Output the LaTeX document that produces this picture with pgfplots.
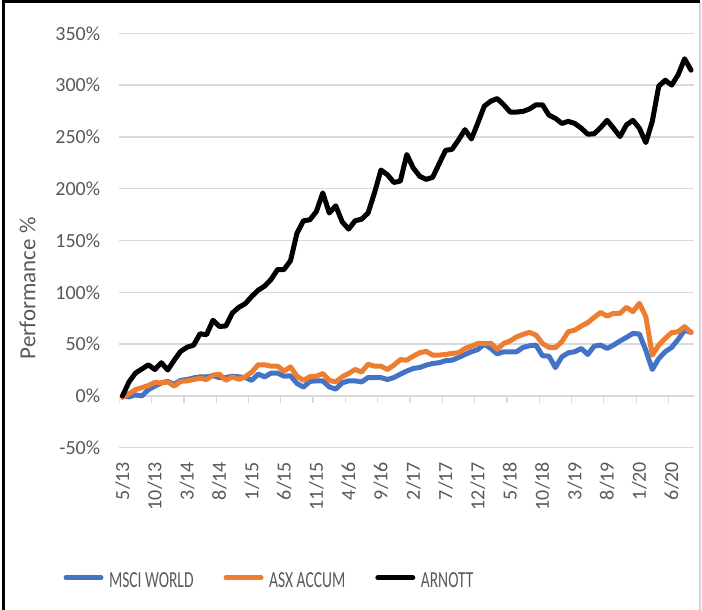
\documentclass[border=0pt]{standalone}
\usepackage{pgfplots}
\pgfplotsset{compat=1.18}
\usepackage{pgfplotstable}
\usepackage{fontspec}
\setmainfont{Carlito}
\newfontfamily\legfont[FakeStretch=0.675]{Carlito}
\definecolor{msciblue}{HTML}{4472C4}
\definecolor{asxorange}{HTML}{ED7D31}
\definecolor{gridgray}{HTML}{D9D9D9}
\definecolor{textgray}{HTML}{595959}

\pgfplotstableread{
i msci asx arnott
0 0 -1.5 0
1 -1 2 13.5
2 1 6 22
3 0 8 26
4 6 10 30
5 9.4 13 25.5
6 12.5 12.5 32
7 14 13.5 25
8 11.3 9.4 34.5
9 15 14 43
10 15.8 14.5 47
11 17.4 15.8 49
12 18.4 17 60
13 18.4 15.8 59
14 19.4 20 73
15 17.7 21 67
16 17.7 15 67.5
17 19 18.4 80
18 18.4 16 85.5
19 17.7 18.4 89
20 15 23 96
21 21 30 102
22 18.4 30 106
23 22 28.7 112.5
24 22 28.7 122
25 19 24 122
26 19.4 28 130.5
27 12 19 157
28 8.5 15 169
29 14 18.5 170
30 14.5 19 178
31 14.5 21.6 196
32 8.7 15 176.5
33 6.5 13.5 183.5
34 12.6 18.4 168
35 14.5 21.6 161
36 14.5 25.5 169
37 13.5 23 170.6
38 17.7 30.6 176.5
39 17.7 28.7 196
40 17.7 28.7 218
41 15.8 25.5 213.5
42 17.7 29.7 206
43 21 35 207.4
44 24 34.5 233
45 26.5 38.4 220
46 27.4 41.6 212
47 29.7 43 209
48 31.3 39.4 211
49 32 39.4 224
50 34 40 237
51 34.5 41 238
52 37 41.6 247
53 40 45.8 257
54 42.6 48 248
55 44.8 50.6 263.5
56 50 50.6 279.7
57 45.8 50.8 284.5
58 40.5 45 287
59 42.6 50.6 281
60 42.6 53 274
61 42.6 57 274
62 46.8 59.4 274.6
63 48.4 61.3 277
64 49 58.7 281
65 38.7 50.6 281
66 38.4 46.8 271
67 27.4 46.5 268
68 37.7 52.3 263
69 41.6 62 265
70 42.6 63.5 263
71 45.8 67.4 258.4
72 40 70.6 252.6
73 48 75.8 253
74 49 80.6 259
75 45.8 77 266
76 49 79.7 258.4
77 53 79.7 250.3
78 56.5 85.5 261.6
79 60.3 81.3 266
80 59.7 89.4 258.4
81 44 76.5 244.5
82 25.5 39.4 265
83 36 49 299
84 42.6 55.5 304.7
85 46.8 61 300
86 54.5 62 310
87 63.5 66.8 325.4
88 61.3 61.3 314.4
}\perf

\begin{document}
\begin{tikzpicture}
\useasboundingbox (0pt,0pt) rectangle (702pt,610pt);
\begin{axis}[
  at={(119.3pt,162.3pt)}, anchor=south west,
  scale only axis, width=575pt, height=414.4pt,
  xmin=-0.5, xmax=88.5, ymin=-50, ymax=350,
  axis line style={draw=none},
  ymajorgrids, grid style={color=gridgray, line width=1.3pt},
  ytick={-50,0,50,100,150,200,250,300,350},
  yticklabels={-50\%,0\%,50\%,100\%,150\%,200\%,250\%,300\%,350\%},
  xtick={0,5,...,85},
  xticklabels={5/13,10/13,3/14,8/14,1/15,6/15,11/15,4/16,9/16,2/17,7/17,12/17,5/18,10/18,3/19,8/19,1/20,6/20},
  major tick length=0pt, minor tick length=0pt,
  tick label style={font=\fontsize{20}{24}\selectfont, text=textgray, inner sep=0pt},
  yticklabel style={anchor=east},
  yticklabel shift=19pt,
  xticklabel style={rotate=90, anchor=east},
  xticklabel shift=14pt,
  legend columns=3,
  legend cell align=left,
  legend image code/.code={\draw[#1, line cap=round] (0pt,0.32em) -- (35pt,0.32em);},
  legend style={at={(axis description cs:-0.0970,-0.3217)}, anchor=west,
    draw=none, fill=none, inner sep=0pt, outer sep=0pt,
    font=\legfont\fontsize{23}{27}\selectfont, text=textgray,
    nodes={inner sep=0pt},
    /tikz/every odd column/.append style={column sep=5.5pt},
    /tikz/every even column/.append style={column sep=30pt}},
  every axis plot/.append style={line width=5pt, line join=round, line cap=round},
]
\pgfplotsinvokeforeach{-0.5,4.5,9.5,14.5,19.5,24.5,29.5,34.5,39.5,44.5,49.5,54.5,59.5,64.5,69.5,74.5,79.5,84.5}{
  \draw[gridgray, line width=1.3pt] (axis cs:#1,0) -- ++(0pt,-7pt);
}
\addplot[msciblue] table[x=i,y=msci]{\perf};
\addlegendentry{MSCI WORLD}
\addplot[asxorange] table[x=i,y=asx]{\perf};
\addlegendentry{ASX ACCUM}
\addplot[black] table[x=i,y=arnott]{\perf};
\addlegendentry{ARNOTT}
\end{axis}
\node[rotate=90, font=\fontsize{23}{28}\selectfont, text=textgray, inner sep=0pt] at (27.5pt,321.5pt) {Performance \%};
\draw[black, line width=3pt] (3.3pt,0pt) -- (3.3pt,608.5pt) -- (700pt,608.5pt);
\draw[gray!35, line width=1.5pt] (699.8pt,0pt) -- (699.8pt,607pt);
\end{tikzpicture}
\end{document}
